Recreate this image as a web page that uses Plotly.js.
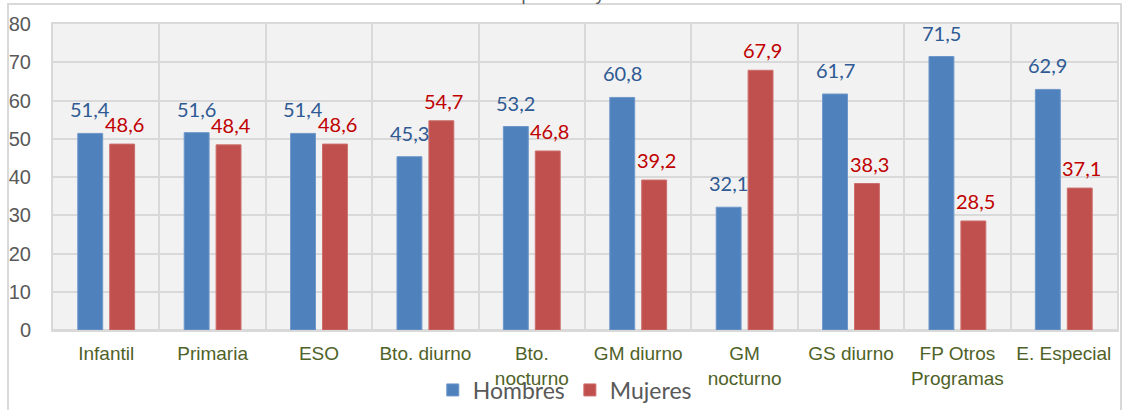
<!DOCTYPE html>
<html>
<head>
<meta charset="utf-8">
<script src="https://cdn.plot.ly/plotly-3.0.1.min.js"></script>
<style>
  html, body { margin: 0; padding: 0; background: #ffffff; }
  #chart { width: 1126px; height: 410px; }
</style>
</head>
<body>
<div id="chart"></div>
<script>
const categories = ["Infantil", "Primaria", "ESO", "Bto. diurno", "Bto.<br>nocturno", "GM diurno", "GM<br>nocturno", "GS diurno", "FP Otros<br>Programas", "E. Especial"];
const hombres = [51.4, 51.6, 51.4, 45.3, 53.2, 60.8, 32.1, 61.7, 71.5, 62.9];
const mujeres = [48.6, 48.4, 48.6, 54.7, 46.8, 39.2, 67.9, 38.3, 28.5, 37.1];
const seriesNames = ["Hombres", "Mujeres"];
const yTicks = [0, 10, 20, 30, 40, 50, 60, 70, 80];
const chartTitle = "Gráfico 1.1: Distribución del alumnado por sexo y niveles educativos. Curso 2016-2017";

const fmt = v => v.toFixed(1).replace(".", ",");

const traces = [
  { type: "bar", name: seriesNames[0], x: categories, y: hombres,
    marker: { color: "#4f81bd", line: { color: "#6e97c9", width: 1 } }, hoverinfo: "skip" },
  { type: "bar", name: seriesNames[1], x: categories, y: mujeres,
    marker: { color: "#c0504d", line: { color: "#cc6e6b", width: 1 } }, hoverinfo: "skip" }
];

const annotations = [];
categories.forEach((c, i) => {
  annotations.push({ x: c, y: hombres[i], xref: "x", yref: "y", text: fmt(hombres[i]),
    showarrow: false, xanchor: "center", yanchor: "bottom", xshift: -16, yshift: 10,
    font: { family: "Lato, 'Open Sans', sans-serif", size: 20, color: "#2f5a94" } });
  annotations.push({ x: c, y: mujeres[i], xref: "x", yref: "y", text: fmt(mujeres[i]),
    showarrow: false, xanchor: "center", yanchor: "bottom", xshift: 18, yshift: 6,
    font: { family: "Lato, 'Open Sans', sans-serif", size: 20, color: "#c00000" } });
});

const layout = {
  width: 1126, height: 410,
  margin: { l: 53, r: 9, t: 24, b: 80, autoexpand: false },
  paper_bgcolor: "#ffffff",
  plot_bgcolor: "#f2f2f2",
  barmode: "group",
  bargap: 0.4,
  bargroupgap: 0.22,
  title: { text: chartTitle, xref: "container", yref: "container", x: 0.496, xanchor: "center",
    y: 1.0, yanchor: "bottom",
    font: { family: "'Liberation Sans', Arial, sans-serif", size: 18, color: "#595959" } },
  showlegend: true,
  legend: { orientation: "h", x: 0.481, xanchor: "center", y: -0.196, yanchor: "middle",
    font: { family: "Lato, 'Open Sans', sans-serif", size: 23, color: "#595959" },
    bgcolor: "rgba(0,0,0,0)", itemwidth: 30, traceorder: "normal" },
  xaxis: {
    type: "category", tickson: "boundaries", automargin: false,
    showgrid: true, gridcolor: "#d9d9d9", gridwidth: 2,
    showline: true, mirror: true, linecolor: "#d9d9d9", linewidth: 2,
    ticks: "outside", ticklen: 9, tickcolor: "rgba(0,0,0,0)", ticklabelstandoff: 5,
    tickfont: { family: "'Liberation Sans', Arial, sans-serif", size: 19, color: "#4f6228" },
    fixedrange: true
  },
  yaxis: {
    range: [0, 80], tickmode: "array", tickvals: yTicks, ticktext: yTicks.map(String),
    automargin: false,
    showgrid: true, gridcolor: "#d9d9d9", gridwidth: 2,
    zeroline: true, zerolinecolor: "#d9d9d9", zerolinewidth: 2,
    showline: true, mirror: true, linecolor: "#d9d9d9", linewidth: 2,
    ticks: "outside", ticklen: 16, tickcolor: "rgba(0,0,0,0)",
    tickfont: { family: "'Liberation Sans', Arial, sans-serif", size: 20, color: "#595959" },
    fixedrange: true
  },
  annotations: annotations,
  shapes: [
    { type: "rect", xref: "paper", yref: "paper",
      x0: -45 / 1064, x1: 1068 / 1064, y0: -0.3, y1: 326 / 306,
      line: { color: "#d9d9d9", width: 2 }, fillcolor: "rgba(0,0,0,0)", layer: "below" }
  ]
};

Plotly.newPlot("chart", traces, layout, { displayModeBar: false, staticPlot: true });
</script>
</body>
</html>
